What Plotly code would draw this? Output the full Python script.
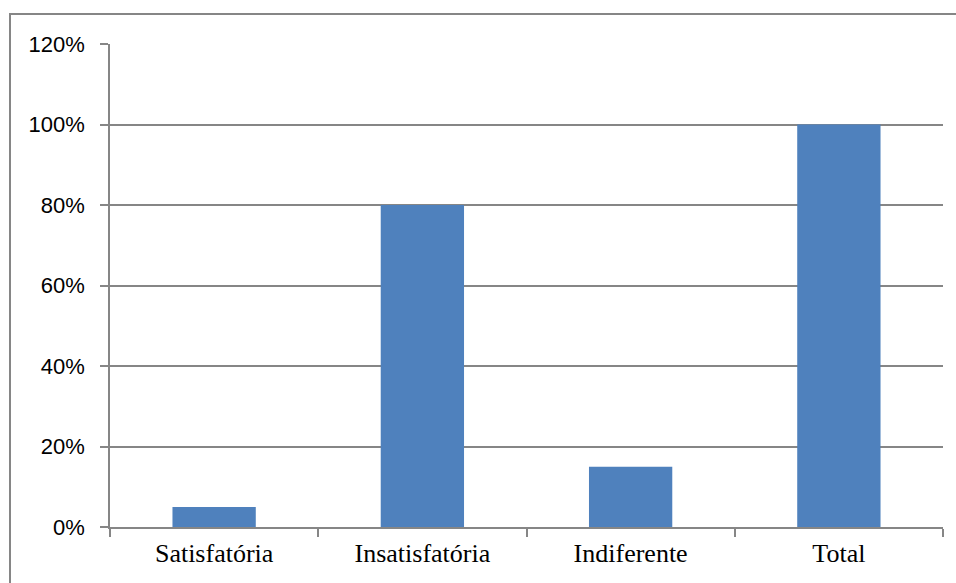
import plotly.graph_objects as go

# Response categories and their share of answers (percent)
categories = ["Satisfatória", "Insatisfatória", "Indiferente", "Total"]
values = [5, 80, 15, 100]

# Y-axis tick values and labels
y_ticks = [0, 20, 40, 60, 80, 100, 120]
y_tick_labels = [f"{v}%" for v in y_ticks]

W, H = 956, 583
ML, MR, MT, MB = 110, 13, 44, 56
GRAY = "#868686"
BAR = "#4F81BD"

fig = go.Figure(
    go.Bar(
        x=categories,
        y=values,
        marker=dict(color=BAR, line=dict(width=0)),
        hoverinfo="skip",
    )
)

plot_w = W - ML - MR
plot_h = H - MT - MB


def px_to_paper_x(px):
    return (px - ML) / plot_w


def px_to_paper_y(py):
    return (H - MB - py) / plot_h


fig.update_layout(
    width=W,
    height=H,
    margin=dict(l=ML, r=MR, t=MT, b=MB, pad=0),
    paper_bgcolor="white",
    plot_bgcolor="white",
    bargap=0.6,
    showlegend=False,
    xaxis=dict(
        type="category",
        showline=True,
        linecolor=GRAY,
        linewidth=2,
        showgrid=False,
        ticks="outside",
        tickson="boundaries",
        ticklen=8,
        tickwidth=2,
        tickcolor=GRAY,
        tickfont=dict(family="Liberation Serif", size=26, color="black"),
        ticklabelstandoff=2,
    ),
    yaxis=dict(
        range=[0, 120],
        tickvals=y_ticks,
        ticktext=y_tick_labels,
        showline=True,
        linecolor=GRAY,
        linewidth=1.5,
        showgrid=True,
        gridcolor=GRAY,
        gridwidth=1.5,
        zeroline=False,
        ticks="outside",
        ticklen=8,
        tickwidth=1.5,
        tickcolor=GRAY,
        tickfont=dict(family="Liberation Sans", size=22, color="black"),
        ticklabelstandoff=11,
    ),
    shapes=[
        # outer chart frame, running off the right and bottom of the page
        dict(
            type="rect",
            xref="paper",
            yref="paper",
            x0=px_to_paper_x(10),
            x1=px_to_paper_x(W + 20),
            y0=px_to_paper_y(H + 20),
            y1=px_to_paper_y(14),
            line=dict(color=GRAY, width=2),
            fillcolor="rgba(0,0,0,0)",
            layer="below",
        )
    ],
)

fig.write_html("out.html")
